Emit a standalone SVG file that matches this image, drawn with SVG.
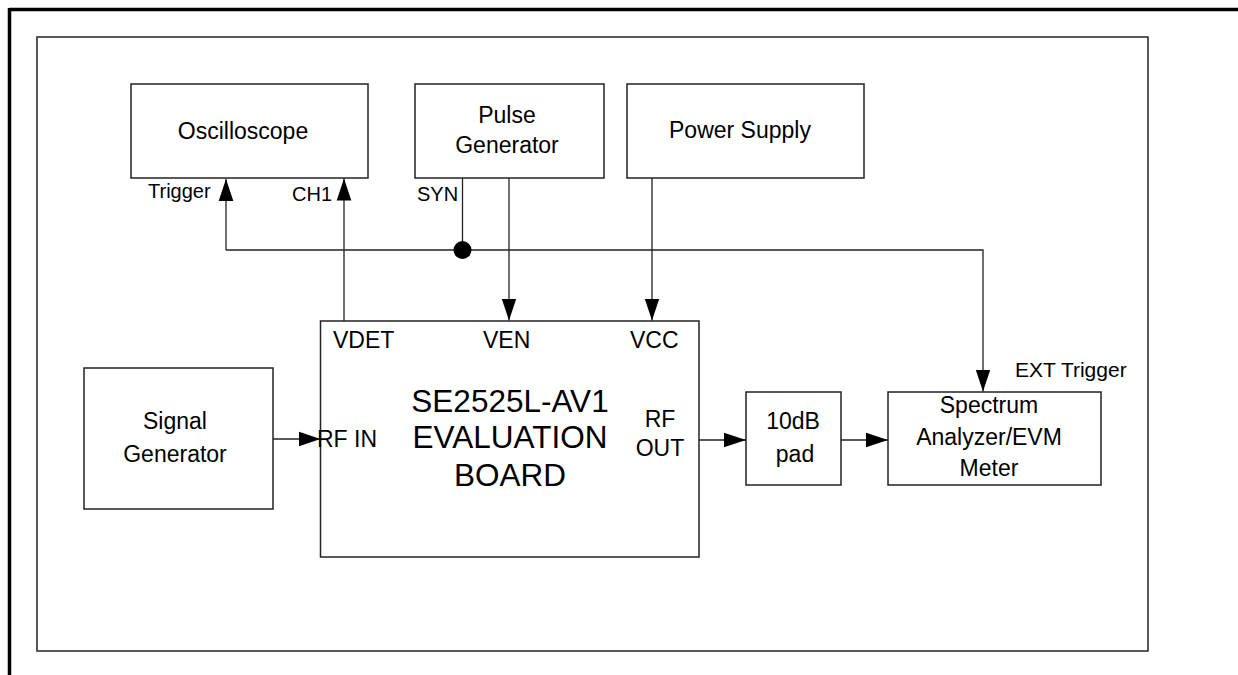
<svg xmlns="http://www.w3.org/2000/svg" width="1238" height="675" viewBox="0 0 1238 675">
<style>
.box{fill:#fff;stroke:#222;stroke-width:1.5}
.frame{fill:none;stroke:#222;stroke-width:1.5}
.wire{fill:none;stroke:#222;stroke-width:1.3}
text{font-family:"Liberation Sans",Arial,sans-serif;fill:#000}
.t23{font-size:23px}
.t20{font-size:20px}
.t21{font-size:21px}
.big{font-size:31.5px}
.mid{text-anchor:middle}
</style>
<defs>
<marker id="arr" markerUnits="userSpaceOnUse" markerWidth="22" markerHeight="16" viewBox="0 0 21 14" refX="21" refY="7" orient="auto">
<path d="M0,0 L21,7 L0,14 Z" fill="#000"/>
</marker>
</defs>
<rect width="1238" height="675" fill="#fff"/>
<g id="outer-frame">
<line x1="9.5" y1="9.5" x2="1238" y2="9.5" stroke="#000" stroke-width="3.5"/>
<line x1="9.5" y1="8" x2="9.5" y2="675" stroke="#000" stroke-width="3.5"/>
<rect class="frame" x="37" y="37" width="1111" height="614"/>
</g>
<g id="connectors">
<path class="wire" d="M226,250 L226,179" marker-end="url(#arr)"/>
<path class="wire" d="M226,250 L983,250 L983,391.5" marker-end="url(#arr)"/>
<path class="wire" d="M344,321 L344,178.5" marker-end="url(#arr)"/>
<path class="wire" d="M462.5,178 L462.5,250"/>
<circle cx="462.5" cy="250" r="9" fill="#000"/>
<path class="wire" d="M509,178 L509,320.5" marker-end="url(#arr)"/>
<path class="wire" d="M652,178 L652,320.5" marker-end="url(#arr)"/>
<path class="wire" d="M273,439 L320.5,439" marker-end="url(#arr)"/>
<path class="wire" d="M699,440 L746,440" marker-end="url(#arr)"/>
<path class="wire" d="M841,440 L888,440" marker-end="url(#arr)"/>
</g>
<g id="oscilloscope">
<rect class="box" x="131" y="84" width="237" height="94"/>
<text class="t23 mid" x="243" y="139">Oscilloscope</text>
<text class="t20" x="148" y="198">Trigger</text>
<text class="t20" x="292" y="201">CH1</text>
</g>
<g id="pulse-generator">
<rect class="box" x="415" y="84" width="189" height="94"/>
<text class="t23 mid" x="507" y="123">Pulse</text>
<text class="t23 mid" x="507" y="153">Generator</text>
<text class="t20" x="417" y="201">SYN</text>
</g>
<g id="power-supply">
<rect class="box" x="627" y="84" width="237" height="94"/>
<text class="t23 mid" x="740" y="138">Power Supply</text>
</g>
<g id="evaluation-board">
<rect class="box" x="320.5" y="321" width="378.5" height="236"/>
<text class="t23" x="333" y="348">VDET</text>
<text class="t23" x="483" y="348">VEN</text>
<text class="t23" x="630" y="348">VCC</text>
<text class="big mid" x="510" y="412">SE2525L-AV1</text>
<text class="big mid" x="510" y="448">EVALUATION</text>
<text class="big mid" x="510" y="486">BOARD</text>
<text class="t23" x="317" y="447">RF IN</text>
<text class="t23 mid" x="660" y="427">RF</text>
<text class="t23 mid" x="660" y="456">OUT</text>
</g>
<g id="signal-generator">
<rect class="box" x="84" y="368" width="189" height="141"/>
<text class="t23 mid" x="175" y="429">Signal</text>
<text class="t23 mid" x="175" y="462">Generator</text>
</g>
<g id="pad">
<rect class="box" x="746" y="392" width="95" height="93"/>
<text class="t23 mid" x="793" y="429">10dB</text>
<text class="t23 mid" x="795" y="462">pad</text>
</g>
<g id="spectrum-analyzer">
<rect class="box" x="888" y="392" width="213" height="93"/>
<text class="t23 mid" x="989" y="413">Spectrum</text>
<text class="t23 mid" x="989" y="445">Analyzer/EVM</text>
<text class="t23 mid" x="989" y="476">Meter</text>
<text class="t21" x="1015" y="377">EXT Trigger</text>
</g>
</svg>
